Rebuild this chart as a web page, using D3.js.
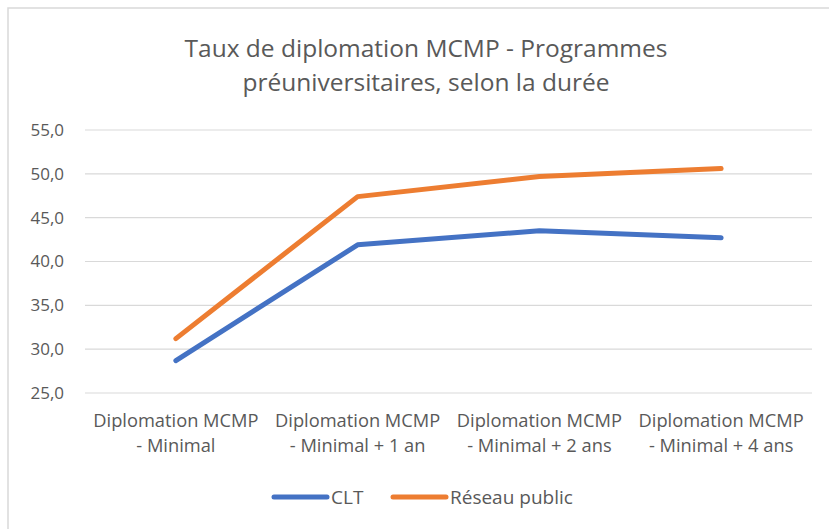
<!DOCTYPE html>
<html>
<head>
<meta charset="utf-8">
<script src="https://cdn.jsdelivr.net/npm/d3@7.8.5/dist/d3.min.js"></script>
<style>
  body { margin: 0; background: #fff; }
  svg { display: block; font-family: "Open Sans", "Liberation Sans", sans-serif; }
</style>
</head>
<body>
<svg width="829" height="529"></svg>
<script>
// chart data
const categories = [
  ["Diplomation MCMP", "- Minimal"],
  ["Diplomation MCMP", "- Minimal + 1 an"],
  ["Diplomation MCMP", "- Minimal + 2 ans"],
  ["Diplomation MCMP", "- Minimal + 4 ans"]
];
const clt = [28.7, 41.9, 43.5, 42.7];
const reseauPublic = [31.2, 47.4, 49.7, 50.6];
const yTicks = [25, 30, 35, 40, 45, 50, 55];
const titleLines = ["Taux de diplomation MCMP - Programmes", "préuniversitaires, selon la durée"];

const series = [
  { name: "CLT", values: clt, color: "#4472c4" },
  { name: "Réseau public", values: reseauPublic, color: "#ed7d31" }
];

const svg = d3.select("svg");
const plot = { left: 85, right: 812, top: 130, bottom: 393 };

// outer border
svg.append("rect")
  .attr("x", 8).attr("y", 8)
  .attr("width", 830).attr("height", 530)
  .attr("fill", "none")
  .attr("stroke", "#d9d9d9")
  .attr("stroke-width", 1.5);

// title
svg.append("g").selectAll("text")
  .data(titleLines)
  .enter()
  .append("text")
  .attr("x", 426)
  .attr("y", (d, i) => 57 + i * 34)
  .attr("text-anchor", "middle")
  .attr("font-size", "24.5px")
  .attr("fill", "#595959")
  .text((d) => d);

const x = d3.scaleBand()
  .domain(d3.range(categories.length))
  .range([plot.left, plot.right]);

const y = d3.scaleLinear()
  .domain([25, 55])
  .range([plot.bottom, plot.top]);

// gridlines
svg.append("g").selectAll("line")
  .data(yTicks)
  .enter()
  .append("line")
  .attr("x1", plot.left).attr("x2", plot.right)
  .attr("y1", (d) => y(d)).attr("y2", (d) => y(d))
  .attr("stroke", "#d9d9d9")
  .attr("stroke-width", 1.2);

// y labels
svg.append("g").selectAll("text")
  .data(yTicks)
  .enter()
  .append("text")
  .attr("x", 64)
  .attr("y", (d) => y(d))
  .attr("dy", "0.35em")
  .attr("text-anchor", "end")
  .attr("font-size", "17px")
  .attr("fill", "#595959")
  .text((d) => d.toFixed(1).replace(".", ","));

// x labels
const xLab = svg.append("g").selectAll("text")
  .data(categories)
  .enter()
  .append("text")
  .attr("text-anchor", "middle")
  .attr("font-size", "18.3px")
  .attr("fill", "#595959")
  .attr("transform", (d, i) => `translate(${x(i) + x.bandwidth() / 2},0)`);

xLab.selectAll("tspan")
  .data((d) => d)
  .enter()
  .append("tspan")
  .attr("x", 0)
  .attr("y", (d, i) => 427 + i * 25)
  .text((d) => d);

// lines
const line = d3.line()
  .x((d, i) => x(i) + x.bandwidth() / 2)
  .y((d) => y(d));

svg.append("g").selectAll("path")
  .data(series)
  .enter()
  .append("path")
  .attr("d", (d) => line(d.values))
  .attr("fill", "none")
  .attr("stroke", (d) => d.color)
  .attr("stroke-width", 5)
  .attr("stroke-linecap", "round")
  .attr("stroke-linejoin", "round");

// legend
const legendX = [274, 393];
const legend = svg.append("g").selectAll("g")
  .data(series)
  .enter()
  .append("g")
  .attr("transform", (d, i) => `translate(${legendX[i]},497)`);

legend.append("line")
  .attr("x1", 0).attr("x2", 53)
  .attr("stroke", (d) => d.color)
  .attr("stroke-width", 5)
  .attr("stroke-linecap", "round");

legend.append("text")
  .attr("x", 57)
  .attr("dy", "0.35em")
  .attr("font-size", "19px")
  .attr("fill", "#595959")
  .text((d) => d.name);
</script>
</body>
</html>
